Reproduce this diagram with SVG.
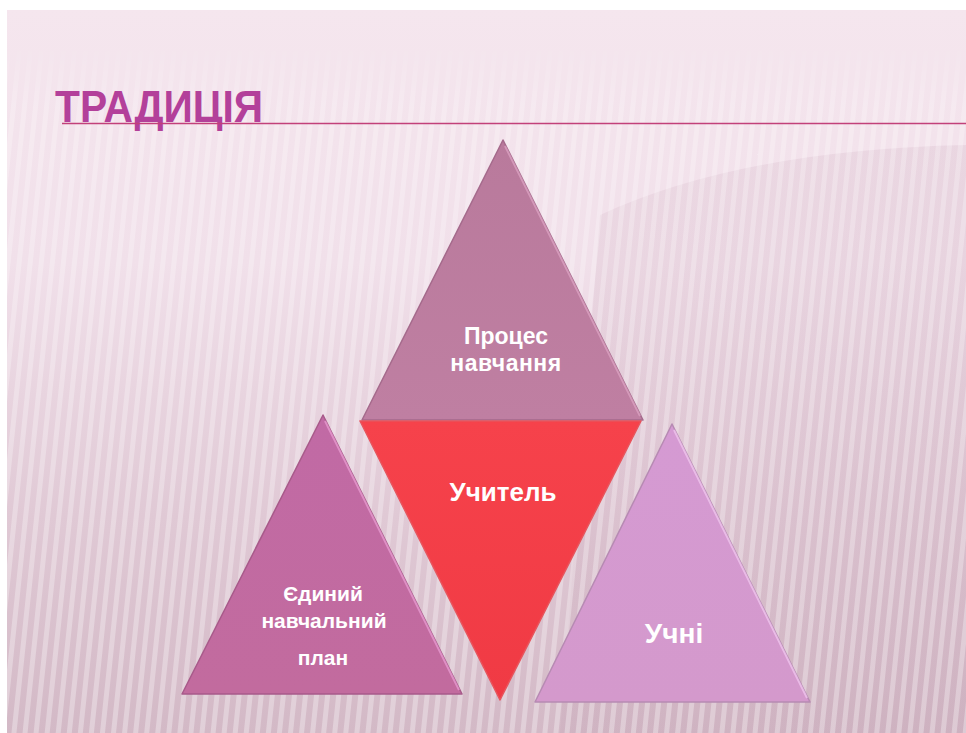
<svg xmlns="http://www.w3.org/2000/svg" width="966" height="733" viewBox="0 0 966 733">
<defs>
<linearGradient id="bg" x1="0" y1="0" x2="0" y2="1">
<stop offset="0" stop-color="#f5e6ee"/>
<stop offset="0.35" stop-color="#f1e0ea"/>
<stop offset="0.7" stop-color="#e0c9d5"/>
<stop offset="1" stop-color="#d3b9c6"/>
</linearGradient>
<pattern id="stripes" width="11" height="40" patternUnits="userSpaceOnUse" patternTransform="rotate(6)">
<rect x="0" y="0" width="5" height="40" fill="#ffffff" opacity="0.4"/>
</pattern>
<linearGradient id="stripeFade" x1="0" y1="0" x2="0" y2="1">
<stop offset="0" stop-color="#fff" stop-opacity="0"/>
<stop offset="0.1" stop-color="#fff" stop-opacity="0.6"/>
<stop offset="1" stop-color="#fff" stop-opacity="0.8"/>
</linearGradient>
<mask id="stripeMask"><rect x="7" y="40" width="959" height="693" fill="url(#stripeFade)"/></mask>
<linearGradient id="shadowG" x1="0" y1="0" x2="1" y2="1">
<stop offset="0" stop-color="#c9a6b8" stop-opacity="0.35"/>
<stop offset="1" stop-color="#b994a8" stop-opacity="0.45"/>
</linearGradient>
<linearGradient id="gTop" x1="0" y1="0" x2="0" y2="1">
<stop offset="0" stop-color="#b97a9c"/>
<stop offset="1" stop-color="#bf7fa2"/>
</linearGradient>
<linearGradient id="gRed" x1="0" y1="0" x2="0" y2="1">
<stop offset="0" stop-color="#f6424b"/>
<stop offset="1" stop-color="#f03a44"/>
</linearGradient>
<linearGradient id="gLeft" x1="0" y1="0" x2="0" y2="1">
<stop offset="0" stop-color="#c16aa5"/>
<stop offset="1" stop-color="#c26b9e"/>
</linearGradient>
<linearGradient id="gRight" x1="0" y1="0" x2="0" y2="1">
<stop offset="0" stop-color="#d59ad3"/>
<stop offset="1" stop-color="#d499cc"/>
</linearGradient>
<style>
.lbl{font-family:"Liberation Sans",Arial,sans-serif;font-weight:bold;fill:#ffffff;text-anchor:middle}
.tri{stroke-width:1.5;stroke-linejoin:round}
</style>
</defs>
<rect width="966" height="733" fill="#ffffff"/>
<g id="background">
<rect x="7" y="10" width="959" height="723" fill="url(#bg)"/>
<path d="M600 215 Q 740 150 966 145 L966 733 L560 733 Z" fill="url(#shadowG)" opacity="0.45"/>
<rect x="7" y="40" width="959" height="693" fill="url(#stripes)" mask="url(#stripeMask)"/>
</g>
<g id="title">
<text x="55" y="122" font-family="'Liberation Sans',Arial,sans-serif" font-size="45" font-weight="bold" fill="#b3409a" textLength="208" lengthAdjust="spacingAndGlyphs">ТРАДИЦІЯ</text>
<line x1="62" y1="123.5" x2="966" y2="123.5" stroke="#c2407a" stroke-width="1.5"/>
</g>
<g id="node-process">
<polygon class="tri" points="503,140 643,420 362,420" fill="url(#gTop)" stroke="#a56a8c"/>
<polyline points="505,146 640,416" fill="none" stroke="#e0a6c6" stroke-width="2" opacity="0.7"/>
<text class="lbl" x="506" y="344" font-size="23">Процес</text>
<text class="lbl" x="506" y="371" font-size="23" letter-spacing="0.5">навчання</text>
</g>
<g id="node-teacher">
<polygon class="tri" points="360,421 641,421 500,700" fill="url(#gRed)" stroke="#e8545c"/>
<text class="lbl" x="503" y="501" font-size="26">Учитель</text>
</g>
<g id="node-plan">
<polygon class="tri" points="323,415 462,694 182,694" fill="url(#gLeft)" stroke="#a85a8a"/>
<polyline points="325,421 459,690" fill="none" stroke="#e79ad0" stroke-width="2" opacity="0.8"/>
<text class="lbl" x="323" y="601" font-size="21">Єдиний</text>
<text class="lbl" x="324" y="628" font-size="21">навчальний</text>
<text class="lbl" x="323" y="665" font-size="21">план</text>
</g>
<g id="node-students">
<polygon class="tri" points="672,424 810,702 535,702" fill="url(#gRight)" stroke="#b78ab3"/>
<polyline points="674,430 807,698" fill="none" stroke="#f0c4ee" stroke-width="2" opacity="0.8"/>
<text class="lbl" x="674" y="643" font-size="28">Учні</text>
</g>
<g id="connectors"/>
</svg>
